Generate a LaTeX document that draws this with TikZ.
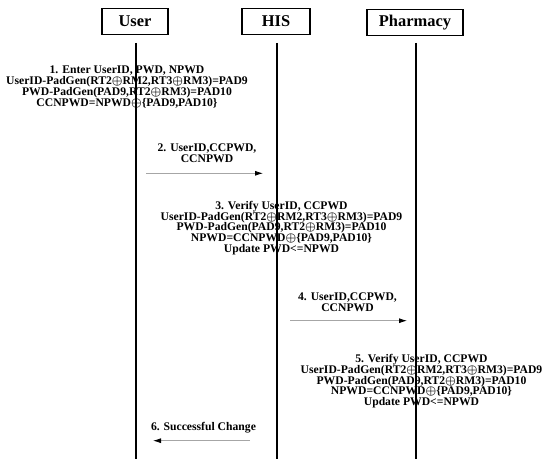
\documentclass[tikz,border=0pt]{standalone}
\usepackage{fontspec}
\setmainfont{Liberation Serif}
\usetikzlibrary{arrows.meta}

\begin{document}
\begin{tikzpicture}[x=1bp, y=-1bp,
	actor/.style={draw, line width=1.6bp, inner sep=0pt, minimum height=26bp, font=\fontsize{16.5}{18}\selectfont\bfseries},
	life/.style={line width=1.3bp},
	msg/.style={draw=gray!70, line width=0.8bp, -{Latex[length=8bp, width=5bp, color=black]}},
	note/.style={align=center, inner sep=0pt, font=\fontsize{11.7}{10.8}\selectfont\bfseries\boldmath}]
	\useasboundingbox (0,0) rectangle (550,470);
	\node [actor, minimum width=66bp] (user) at (135,21.5) {User};
	\node [actor, minimum width=68bp] (his) at (276,21.5) {HIS};
	\node [actor, minimum width=96bp] (pharm) at (415,22.5) {Pharmacy};
	\coordinate (userTop) at (136,43);
	\coordinate (userBot) at (136,459);
	\coordinate (hisTop) at (277,43);
	\coordinate (hisBot) at (277,459);
	\coordinate (pharmTop) at (416,43);
	\coordinate (pharmBot) at (416,459);
	\draw [life] (userTop) -- (userBot);
	\draw [life] (hisTop) -- (hisBot);
	\draw [life] (pharmTop) -- (pharmBot);
	\node [note] (step1) at (127,87) {1. Enter UserID, PWD, NPWD\\UserID-PadGen(RT2$\oplus$RM2,RT3$\oplus$RM3)=PAD9\\PWD-PadGen(PAD9,RT2$\oplus$RM3)=PAD10\\CCNPWD=NPWD$\oplus$\{PAD9,PAD10\}};
	\node [note] (step2) at (207,153.5) {2. UserID,CCPWD,\\CCNPWD};
	\coordinate (m2a) at (146,173.3);
	\coordinate (m2b) at (263,173.3);
	\draw [msg] (m2a) -- (m2b);
	\node [note] (step3) at (281.5,228) {3. Verify UserID, CCPWD\\UserID-PadGen(RT2$\oplus$RM2,RT3$\oplus$RM3)=PAD9\\PWD-PadGen(PAD9,RT2$\oplus$RM3)=PAD10\\NPWD=CCNPWD$\oplus$\{PAD9,PAD10\}\\Update PWD<=NPWD};
	\node [note] (step4) at (347.5,302.5) {4. UserID,CCPWD,\\CCNPWD};
	\coordinate (m4a) at (290,320.7);
	\coordinate (m4b) at (407,320.7);
	\draw [msg] (m4a) -- (m4b);
	\node [note] (step5) at (421.5,381.3) {5. Verify UserID, CCPWD\\UserID-PadGen(RT2$\oplus$RM2,RT3$\oplus$RM3)=PAD9\\PWD-PadGen(PAD9,RT2$\oplus$RM3)=PAD10\\NPWD=CCNPWD$\oplus$\{PAD9,PAD10\}\\Update PWD<=NPWD};
	\node [note] (step6) at (203.5,428) {6. Successful Change};
	\coordinate (m6a) at (250,440.7);
	\coordinate (m6b) at (153,440.7);
	\draw [msg] (m6a) -- (m6b);
\end{tikzpicture}
\end{document}
